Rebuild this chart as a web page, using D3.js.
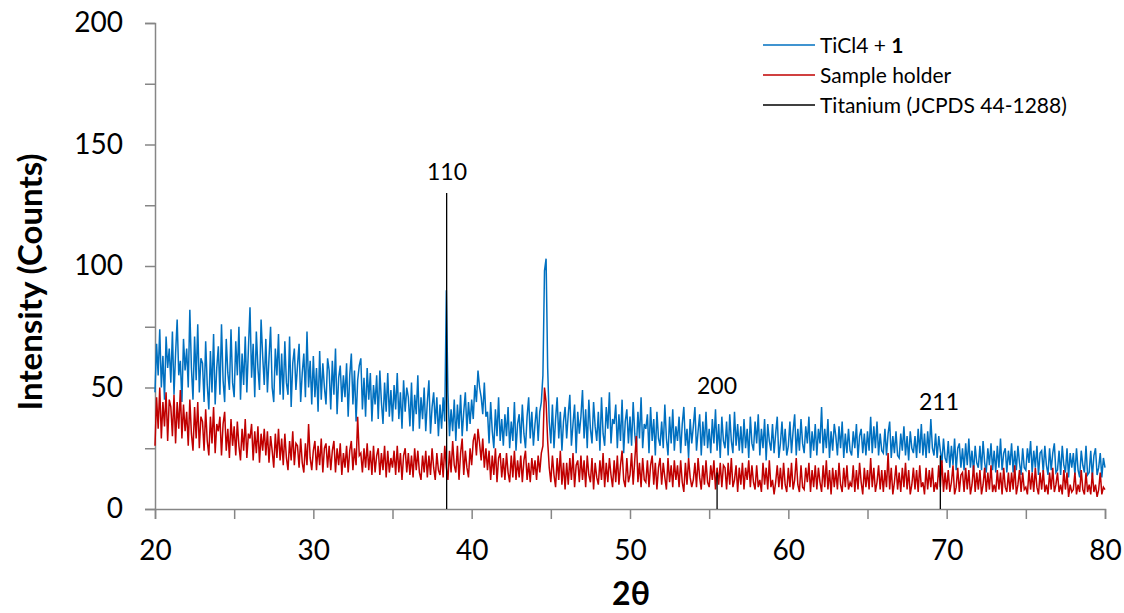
<!DOCTYPE html>
<html>
<head>
<meta charset="utf-8">
<script src="https://cdn.jsdelivr.net/npm/d3@7"></script>
<style>
  body { margin: 0; background: #fff; }
  svg text { font-family: Lato, "Open Sans", sans-serif; fill: #000; }
  .axis path, .axis line { stroke: #868686; stroke-width: 1.5; }
</style>
</head>
<body>
<svg id="chart" width="1124" height="613"></svg>
<script>
// ── Data (0.1° steps from 20° to 80°) ──
const scanStart = 20;
const scanStep = 0.1;

const blueCounts = [
  48,68,55,74,50,63,45,71,58,66,
  52,73,47,64,78,55,61,44,70,57,
  66,50,82,58,45,71,53,76,48,62,
  60,44,69,51,41,65,48,72,43,58,
  67,47,76,53,44,70,56,49,74,52,
  46,69,55,75,45,64,51,71,48,66,
  83,54,68,46,73,58,49,78,63,51,
  70,48,62,75,50,44,66,55,72,47,
  64,45,69,52,47,71,42,60,66,49,
  59,68,44,56,64,46,73,50,61,43,
  63,46,58,40,65,45,60,50,43,62,
  57,41,61,47,66,39,54,59,44,55,
  46,60,38,55,64,43,57,36,53,59,
  62,41,54,38,58,45,56,36,51,43,
  55,37,57,44,35,52,40,56,38,49,
  36,51,41,56,37,48,33,53,40,50,
  46,34,52,32,47,39,55,33,46,37,
  50,32,44,53,31,42,48,35,46,30,
  43,33,46,36,90,48,30,41,32,45,
  28,43,33,47,30,40,48,32,44,35,
  45,37,51,44,57,50,46,39,52,38,
  40,27,44,32,25,41,30,46,28,37,
  26,39,30,42,25,36,28,44,24,35,
  39,27,43,31,25,38,46,29,40,26,
  35,42,28,40,44,55,98,103,58,36,
  27,43,25,37,46,29,40,24,36,42,
  29,39,47,26,35,43,23,40,31,38,
  49,29,41,25,45,33,27,44,34,28,
  40,24,46,31,26,42,33,48,27,37,
  35,43,25,39,28,45,23,36,41,27,
  38,26,44,31,24,40,29,46,25,35,
  33,39,23,42,28,37,22,40,29,26,
  36,25,43,29,22,38,27,41,24,34,
  28,38,23,35,42,26,33,21,37,27,
  34,42,24,32,39,22,36,26,40,25,
  33,23,37,27,41,24,35,21,38,28,
  25,36,22,39,28,23,40,26,35,24,
  34,23,37,25,33,21,38,27,24,36,
  27,39,22,33,25,37,20,35,28,24,
  35,23,31,38,21,27,36,24,33,22,
  26,36,23,32,39,22,33,24,37,27,
  23,34,27,38,21,32,24,35,22,33,
  27,42,23,33,25,37,21,32,24,35,
  30,22,34,25,36,21,31,23,33,24,
  22,32,25,35,21,30,33,23,31,22,
  32,24,38,23,34,25,36,22,31,24,
  23,33,22,31,36,21,30,23,32,22,
  21,31,24,34,22,30,20,32,25,23,
  30,21,33,23,35,22,31,21,32,23,
  37,25,22,31,21,30,24,19,29,21,
  19,28,17,26,18,29,16,25,27,17,
  25,16,27,18,29,17,24,15,26,19,
  17,26,16,28,19,15,25,18,27,16,
  24,15,26,17,29,16,23,25,15,24,
  18,27,15,24,16,26,19,14,25,17,
  16,25,19,28,15,24,17,26,14,23,
  24,15,26,18,14,25,16,23,27,15,
  16,24,14,26,18,15,25,13,23,17,
  23,14,25,16,13,24,18,15,26,14,
  15,24,13,22,25,14,17,23,13,21,
  17
];

const redCounts = [
  26,46,33,50,29,44,34,48,28,45,
  42,30,47,27,44,33,49,29,43,32,
  40,26,45,31,24,42,29,44,25,38,
  36,24,41,28,22,38,27,42,23,35,
  32,38,22,35,40,24,33,21,37,26,
  34,22,36,26,20,33,24,37,21,31,
  29,35,20,32,23,34,19,31,24,33,
  22,32,19,30,24,17,31,21,33,20,
  29,18,31,21,16,28,20,32,18,27,
  26,17,29,19,15,27,18,35,21,16,
  24,28,16,26,18,29,15,25,27,17,
  26,16,24,28,15,25,18,27,14,23,
  17,26,15,24,28,16,25,18,38,22,
  23,15,25,17,27,16,24,14,26,15,
  22,25,14,23,16,26,13,24,15,21,
  17,24,14,26,15,23,12,22,25,15,
  23,14,22,13,25,16,24,15,12,22,
  15,24,13,22,14,25,17,12,23,16,
  14,23,13,26,17,12,24,15,28,18,
  15,26,12,23,29,14,24,17,13,25,
  18,28,31,22,33,27,20,29,17,25,
  16,24,12,22,14,25,11,21,23,13,
  21,12,23,15,11,22,13,24,12,20,
  13,22,11,20,24,12,19,11,21,14,
  20,12,22,15,23,26,50,44,28,17,
  11,22,14,9,21,12,24,10,19,8,
  19,10,21,12,23,9,18,20,11,22,
  12,20,9,22,14,11,21,8,19,13,
  10,20,12,23,9,19,11,21,14,9,
  20,11,22,10,18,24,12,9,21,11,
  14,23,10,20,30,11,19,9,21,12,
  11,20,9,18,22,10,19,8,17,21,
  10,19,13,8,21,11,18,9,20,12,
  18,9,20,11,7,19,10,21,13,9,
  12,19,9,21,13,8,18,10,20,11,
  9,18,12,20,8,17,10,19,9,18,
  17,8,19,10,21,9,12,18,7,17,
  10,19,8,17,12,20,9,18,11,8,
  18,9,12,7,19,10,17,8,20,9,
  12,6,11,18,9,17,8,19,10,7,
  17,9,19,8,12,21,10,7,18,9,
  8,17,11,19,7,16,9,18,8,17,
  11,7,18,9,20,8,16,6,17,9,
  16,8,19,10,7,17,9,18,8,11,
  9,18,7,16,8,19,11,6,17,9,
  16,8,21,9,17,7,11,18,8,16,
  7,16,9,23,8,17,6,11,18,8,
  15,7,17,9,19,8,16,6,10,17,
  8,16,7,18,9,11,6,17,8,16,
  9,17,7,11,8,18,9,20,7,15,
  8,16,7,11,18,6,9,17,7,14,
  15,7,17,8,16,6,10,18,7,15,
  8,16,6,10,17,7,15,8,18,7,
  10,7,16,8,15,6,17,9,7,15,
  7,15,8,18,6,10,16,7,15,8,
  9,6,16,8,15,7,17,9,6,15,
  8,16,7,10,6,15,8,17,7,10,
  15,7,10,6,16,8,15,5,10,7,
  8,15,6,10,7,16,8,6,15,7,
  10,6,15,7,10,5,8,15,6,9,
  8
];

// Titanium reference (JCPDS 44-1288)
const refAngles = [38.42, 55.5, 69.6];
const refHeights = [130, 15, 22];
const refLabels = ["110", "200", "211"];

const xTicks = [20, 30, 40, 50, 60, 70, 80];
const yTicks = [0, 50, 100, 150, 200];

const seriesNames = ["TiCl4 + ", "Sample holder", "Titanium (JCPDS 44-1288)"];
const seriesColors = ["#0070C0", "#C00000", "#000000"];

// ── Scales ──
const svg = d3.select("#chart");
const x = d3.scaleLinear().domain([20, 80]).range([155, 1105]);
const y = d3.scaleLinear().domain([0, 200]).range([509, 23]);

// ── Axes ──
const xAxis = svg.append("g")
  .attr("class", "axis")
  .attr("transform", `translate(0,${y(0)})`)
  .call(d3.axisBottom(x)
    .tickValues(d3.range(20, 81, 5))
    .tickSize(10)
    .tickPadding(21)
    .tickFormat(d => xTicks.includes(d) ? d : ""));

const yAxis = svg.append("g")
  .attr("class", "axis")
  .attr("transform", `translate(${x(20)},0)`)
  .call(d3.axisLeft(y)
    .tickValues(d3.range(0, 201, 25))
    .tickSize(10)
    .tickPadding(22)
    .tickFormat(d => yTicks.includes(d) ? d : ""));

svg.selectAll(".axis text")
  .attr("font-size", 28)
  .attr("fill", "#000")
  .style("font-family", "Lato, 'Open Sans', sans-serif");

// ── Series ──
const line = d3.line()
  .x((d, i) => x(scanStart + i * scanStep))
  .y(d => y(d));

svg.append("path")
  .datum(blueCounts)
  .attr("fill", "none")
  .attr("stroke", seriesColors[0])
  .attr("stroke-width", 1.5)
  .attr("d", line);

svg.append("path")
  .datum(redCounts)
  .attr("fill", "none")
  .attr("stroke", seriesColors[1])
  .attr("stroke-width", 1.5)
  .attr("d", line);

// Reference sticks
svg.selectAll(".ref")
  .data(refAngles)
  .join("line")
  .attr("x1", d => x(d)).attr("x2", d => x(d))
  .attr("y1", y(0))
  .attr("y2", (d, i) => y(refHeights[i]))
  .attr("stroke", "#000")
  .attr("stroke-width", 1.3);

// hkl labels
const labelPos = [[447, 180], [717, 394], [939, 410]];
svg.selectAll(".hkl")
  .data(refLabels)
  .join("text")
  .attr("x", (d, i) => labelPos[i][0])
  .attr("y", (d, i) => labelPos[i][1])
  .attr("text-anchor", "middle")
  .attr("font-size", 23)
  .text(d => d);

// ── Axis titles ──
svg.append("text")
  .attr("x", 631).attr("y", 605)
  .attr("text-anchor", "middle")
  .attr("font-size", 32)
  .attr("font-weight", "bold")
  .text("2θ");

svg.append("text")
  .attr("transform", "translate(42,282) rotate(-90)")
  .attr("text-anchor", "middle")
  .attr("font-size", 33)
  .attr("font-weight", "bold")
  .text("Intensity (Counts)");

// ── Legend ──
const legend = svg.append("g").attr("transform", "translate(763,45)");
seriesNames.forEach((name, i) => {
  const row = legend.append("g").attr("transform", `translate(0,${i * 30})`);
  row.append("line")
    .attr("x1", 0).attr("x2", 52)
    .attr("stroke", seriesColors[i])
    .attr("stroke-width", 1.4);
  const t = row.append("text")
    .attr("x", 57).attr("y", 7.5)
    .attr("font-size", 21)
    .text(name);
  if (i === 0) t.append("tspan").attr("font-weight", "bold").text("1");
});
</script>
</body>
</html>
